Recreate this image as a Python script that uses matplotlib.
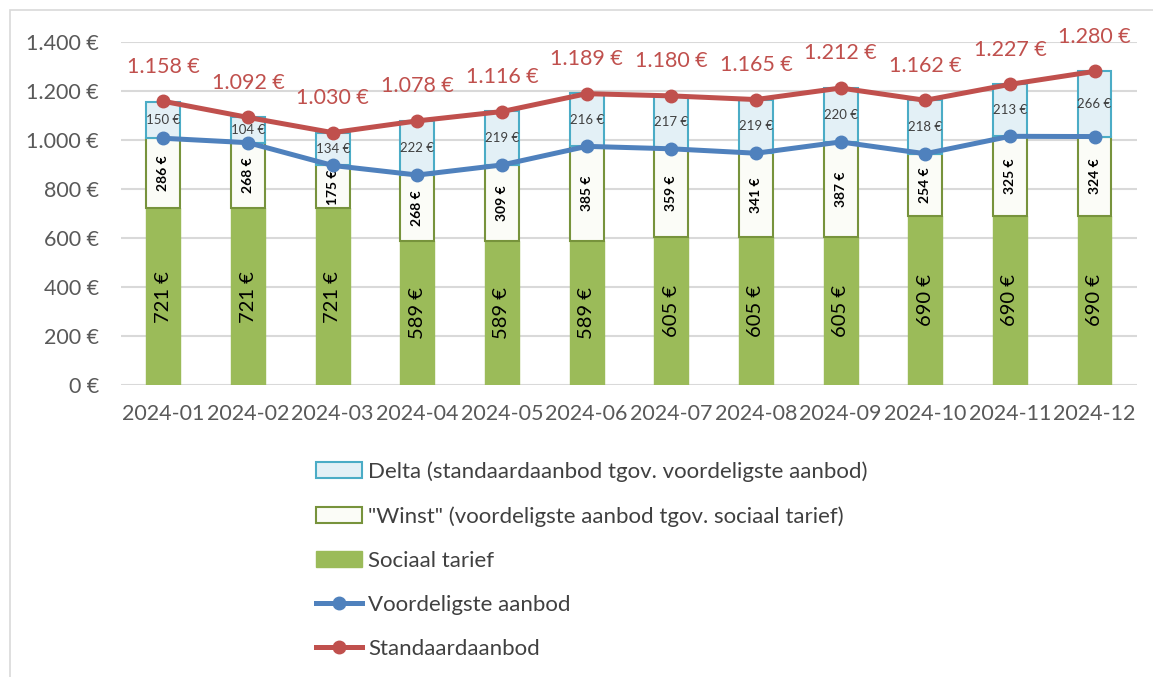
import numpy as np
import matplotlib.pyplot as plt
from matplotlib.patches import Rectangle

# ------------------------------------------------------------
# Data
# ------------------------------------------------------------
maanden = ["2024-01", "2024-02", "2024-03", "2024-04", "2024-05", "2024-06",
           "2024-07", "2024-08", "2024-09", "2024-10", "2024-11", "2024-12"]
sociaal = [721, 721, 721, 589, 589, 589, 605, 605, 605, 690, 690, 690]
winst = [286, 268, 175, 268, 309, 385, 359, 341, 387, 254, 325, 324]
delta = [150, 104, 134, 222, 219, 216, 217, 219, 220, 218, 213, 266]
standaard = [1158, 1092, 1030, 1078, 1116, 1189, 1180, 1165, 1212, 1162, 1227, 1280]
voordeligste = [1007, 989, 896, 857, 898, 974, 964, 946, 992, 944, 1015, 1014]
y_ticks = [0, 200, 400, 600, 800, 1000, 1200, 1400]


def eur(v):
    # 1158 -> "1.158 €"
    return f"{v:,}".replace(",", ".") + " €"


plt.rcParams['font.family'] = ['Lato', 'DejaVu Sans']

fig = plt.figure(figsize=(11.53, 6.77), dpi=100)
ax = fig.add_axes([0.105, 0.4313, 0.881, 0.5067])

# chart border
fig.patches.append(Rectangle((10 / 1153, -0.01), 1.2, 1 - 10 / 677 + 0.01,
                             transform=fig.transFigure, fill=False,
                             edgecolor="#D9D9D9", linewidth=1.2))

x = np.arange(len(maanden))
w = 0.4
soc = np.array(sociaal)
win = np.array(winst)
dlt = np.array(delta)

b_soc = ax.bar(x, soc, w, color="#9BBB59", edgecolor="#9BBB59", linewidth=1, zorder=2,
               label="Sociaal tarief")
b_win = ax.bar(x, win, w, bottom=soc, color="#FBFCF7", edgecolor="#77933C", linewidth=1.5,
               zorder=2, label='"Winst" (voordeligste aanbod tgov. sociaal tarief)')
b_dlt = ax.bar(x, dlt, w, bottom=soc + win, color="#E3F0F6", edgecolor="#4BACC6",
               linewidth=1.5, zorder=2, label="Delta (standaardaanbod tgov. voordeligste aanbod)")

# bar labels
for i in range(len(maanden)):
    ax.text(x[i], soc[i] / 2, eur(sociaal[i]), rotation=90, ha="center", va="center",
            fontsize=14.5, color="black", zorder=3)
    ax.text(x[i], soc[i] + win[i] / 2, eur(winst[i]), rotation=90, ha="center", va="center",
            fontsize=10, fontweight="bold", color="black", zorder=3)
    ax.text(x[i], soc[i] + win[i] + dlt[i] / 2, eur(delta[i]), ha="center", va="center",
            fontsize=9.5, color="#404040", zorder=3)

l_vd, = ax.plot(x, voordeligste, color="#4F81BD", linewidth=3.6, marker="o", markersize=9,
                zorder=4, label="Voordeligste aanbod")
l_st, = ax.plot(x, standaard, color="#C0504D", linewidth=3.6, marker="o", markersize=9,
                zorder=4, label="Standaardaanbod")

for i, v in enumerate(standaard):
    ax.annotate(eur(v), (x[i], v), xytext=(0, 25), textcoords="offset points",
                ha="center", va="center", fontsize=15.5, color="#C0504D", zorder=5)

# axes styling
ax.set_xlim(-0.5, len(maanden) - 0.5)
ax.set_ylim(0, 1400)
ax.set_yticks(y_ticks)
ax.set_yticklabels([eur(t) for t in y_ticks])
ax.set_xticks(x)
ax.set_xticklabels(maanden)
ax.tick_params(axis="both", length=0, labelsize=15.5, labelcolor="#595959")
ax.tick_params(axis="y", pad=16)
ax.tick_params(axis="x", pad=14)
ax.grid(axis="y", color="#D9D9D9", linewidth=1.5, zorder=0)
ax.set_axisbelow(True)
for s in ax.spines.values():
    s.set_visible(False)

# legend
handles = [b_dlt, b_win, b_soc, l_vd, l_st]
leg = fig.legend(handles=handles, labels=[h.get_label() for h in handles],
                 loc="upper left", bbox_to_anchor=(0.266, 0.332), frameon=False,
                 fontsize=16, labelspacing=1.09, handlelength=2.1, handleheight=0.75,
                 handletextpad=0.25, borderaxespad=0)
for t in leg.get_texts():
    t.set_color("#404040")

fig.savefig("out.png", dpi=100)
